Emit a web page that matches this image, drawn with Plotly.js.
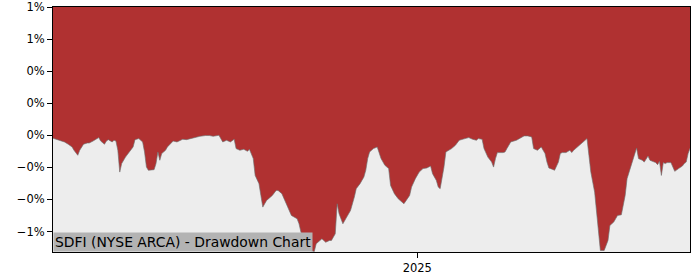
<!DOCTYPE html>
<html>
<head>
<meta charset="utf-8">
<script src="https://cdn.plot.ly/plotly-3.0.1.min.js"></script>
<style>html,body{margin:0;padding:0;background:#fff;}#chart{width:700px;height:280px;}</style>
</head>
<body>
<div id="chart"></div>
<script>
const dates = [
"2024-06-24","2024-06-26","2024-06-28","2024-06-30","2024-07-02","2024-07-04","2024-07-05","2024-07-07","2024-07-08","2024-07-10",
"2024-07-12","2024-07-13","2024-07-15","2024-07-17","2024-07-18","2024-07-19","2024-07-21","2024-07-22","2024-07-23","2024-07-25",
"2024-07-26","2024-07-27","2024-07-28","2024-07-29","2024-07-30","2024-08-01","2024-08-03","2024-08-05","2024-08-06","2024-08-08",
"2024-08-10","2024-08-11","2024-08-12","2024-08-13","2024-08-16","2024-08-17","2024-08-18","2024-08-19","2024-08-20","2024-08-22",
"2024-08-23","2024-08-25","2024-08-26","2024-08-28","2024-08-30","2024-08-31","2024-09-02","2024-09-04","2024-09-06","2024-09-09",
"2024-09-12","2024-09-14","2024-09-16","2024-09-19","2024-09-21","2024-09-23","2024-09-25","2024-09-27","2024-09-28","2024-09-30",
"2024-10-02","2024-10-04","2024-10-05","2024-10-07","2024-10-08","2024-10-10","2024-10-11","2024-10-12","2024-10-14","2024-10-17",
"2024-10-19","2024-10-20","2024-10-22","2024-10-24","2024-10-26","2024-10-27","2024-10-30","2024-10-31","2024-11-01","2024-11-02",
"2024-11-04","2024-11-06","2024-11-08","2024-11-09","2024-11-12","2024-11-14","2024-11-16","2024-11-17","2024-11-19","2024-11-20",
"2024-11-21","2024-11-23","2024-11-25","2024-11-27","2024-11-29","2024-11-30","2024-12-02","2024-12-04","2024-12-05","2024-12-06",
"2024-12-07","2024-12-09","2024-12-11","2024-12-13","2024-12-15","2024-12-17","2024-12-18","2024-12-20","2024-12-22","2024-12-24",
"2024-12-25","2024-12-28","2024-12-29","2024-12-31","2025-01-02","2025-01-04","2025-01-06","2025-01-08","2025-01-09","2025-01-11",
"2025-01-12","2025-01-13","2025-01-15","2025-01-16","2025-01-19","2025-01-21","2025-01-23","2025-01-26","2025-01-28","2025-01-30",
"2025-02-01","2025-02-02","2025-02-04","2025-02-05","2025-02-07","2025-02-09","2025-02-10","2025-02-11","2025-02-12","2025-02-15",
"2025-02-16","2025-02-17","2025-02-19","2025-02-22","2025-02-24","2025-02-26","2025-02-28","2025-03-02","2025-03-03","2025-03-05",
"2025-03-07","2025-03-09","2025-03-10","2025-03-11","2025-03-13","2025-03-14","2025-03-16","2025-03-17","2025-03-18","2025-03-20",
"2025-03-22","2025-03-23","2025-03-24","2025-03-26","2025-03-28","2025-03-30","2025-03-31","2025-04-01","2025-04-02","2025-04-04",
"2025-04-05","2025-04-06","2025-04-07","2025-04-09","2025-04-11","2025-04-12","2025-04-14","2025-04-15","2025-04-16","2025-04-18",
"2025-04-20","2025-04-21","2025-04-23","2025-04-25","2025-04-26","2025-04-27","2025-04-29","2025-04-30","2025-05-02","2025-05-03",
"2025-05-05","2025-05-06","2025-05-07","2025-05-08","2025-05-09","2025-05-10","2025-05-11","2025-05-12","2025-05-14","2025-05-15",
"2025-05-16","2025-05-18","2025-05-20","2025-05-21","2025-05-22","2025-05-23","2025-05-24"
];

const drawdown = [
-0.00023,-0.00034,-0.00045,-0.00052,-0.00070,-0.00091,-0.00117,-0.00156,-0.00117,-0.00070,
-0.00060,-0.00060,-0.00045,-0.00031,-0.00018,-0.00045,-0.00070,-0.00045,-0.00034,-0.00052,
-0.00039,-0.00045,-0.00117,-0.00287,-0.00221,-0.00170,-0.00130,-0.00091,-0.00034,-0.00026,
-0.00052,-0.00130,-0.00248,-0.00273,-0.00268,-0.00221,-0.00130,-0.00195,-0.00143,-0.00117,
-0.00091,-0.00065,-0.00045,-0.00052,-0.00039,-0.00031,-0.00034,-0.00026,-0.00018,-0.00008,
-0.00002,-0.00002,-0.00008,0.00000,-0.00052,-0.00039,-0.00052,-0.00031,-0.00104,-0.00117,
-0.00109,-0.00125,-0.00109,-0.00182,-0.00313,-0.00377,-0.00469,-0.00560,-0.00508,-0.00469,
-0.00430,-0.00430,-0.00455,-0.00521,-0.00586,-0.00625,-0.00651,-0.00690,-0.00755,-0.00820,
-0.00867,-0.00898,-0.00906,-0.00846,-0.00807,-0.00834,-0.00820,-0.00820,-0.00768,-0.00534,
-0.00612,-0.00690,-0.00638,-0.00586,-0.00482,-0.00416,-0.00377,-0.00326,-0.00273,-0.00182,
-0.00130,-0.00104,-0.00091,-0.00182,-0.00234,-0.00260,-0.00391,-0.00455,-0.00495,-0.00526,
-0.00534,-0.00469,-0.00404,-0.00338,-0.00287,-0.00260,-0.00255,-0.00240,-0.00299,-0.00352,
-0.00404,-0.00416,-0.00248,-0.00130,-0.00104,-0.00078,-0.00039,-0.00026,-0.00018,-0.00031,
-0.00039,-0.00026,-0.00031,-0.00104,-0.00170,-0.00209,-0.00248,-0.00182,-0.00135,-0.00135,
-0.00130,-0.00104,-0.00052,-0.00039,-0.00021,-0.00005,-0.00005,-0.00013,-0.00104,-0.00117,
-0.00091,-0.00143,-0.00209,-0.00255,-0.00266,-0.00273,-0.00209,-0.00143,-0.00135,-0.00135,
-0.00117,-0.00135,-0.00117,-0.00091,-0.00065,-0.00039,-0.00026,-0.00156,-0.00287,-0.00443,
-0.00612,-0.00768,-0.00898,-0.00898,-0.00820,-0.00703,-0.00677,-0.00651,-0.00625,-0.00620,
-0.00469,-0.00338,-0.00248,-0.00156,-0.00099,-0.00182,-0.00195,-0.00209,-0.00162,-0.00195,
-0.00203,-0.00213,-0.00229,-0.00203,-0.00313,-0.00213,-0.00221,-0.00213,-0.00213,-0.00255,
-0.00281,-0.00260,-0.00240,-0.00221,-0.00209,-0.00143,-0.00102
];

const yTickVals = [0.01, 0.0075, 0.005, 0.0025, 0, -0.0025, -0.005, -0.0075];
const yTickText = ["1%", "1%", "0%", "0%", "0%", "\u22120%", "\u22120%", "\u22120%".replace("0","1")];
const xTickVals = ["2025-01-01"];
const xTickText = ["2025"];
const chartLabel = "SDFI (NYSE ARCA) - Drawdown Chart";
const yRange = [-0.0091, 0.01];

const topLine = {
  x: dates,
  y: dates.map(() => yRange[1]),
  type: "scatter",
  mode: "lines",
  line: { width: 0, color: "rgba(0,0,0,0)" },
  hoverinfo: "skip",
  showlegend: false
};

const ddTrace = {
  x: dates,
  y: drawdown,
  type: "scatter",
  mode: "lines",
  fill: "tonexty",
  fillcolor: "#b03131",
  line: { width: 0.8, color: "rgba(110,110,110,0.8)" },
  showlegend: false
};

const tickFont = { family: "DejaVu Sans, sans-serif", size: 11.5, color: "#000" };

const layout = {
  width: 700,
  height: 280,
  margin: { l: 53, r: 10, t: 7, b: 28, pad: 0 },
  paper_bgcolor: "#ffffff",
  plot_bgcolor: "#ededed",
  showlegend: false,
  xaxis: {
    type: "date",
    range: [dates[0], dates[dates.length - 1]],
    tickvals: xTickVals,
    ticktext: xTickText,
    ticks: "outside",
    ticklen: 5,
    tickwidth: 1,
    tickcolor: "#000",
    showline: true,
    mirror: true,
    linecolor: "#000",
    linewidth: 1,
    showgrid: false,
    zeroline: false,
    tickfont: tickFont
  },
  yaxis: {
    range: yRange,
    tickvals: yTickVals,
    ticktext: yTickText,
    ticks: "outside",
    ticklen: 5,
    tickwidth: 1,
    tickcolor: "#000",
    showline: true,
    mirror: true,
    linecolor: "#000",
    linewidth: 1,
    showgrid: false,
    zeroline: false,
    tickfont: tickFont
  },
  annotations: [{
    text: chartLabel,
    xref: "paper", yref: "paper",
    x: 0, y: 0,
    xanchor: "left", yanchor: "bottom",
    showarrow: false,
    bgcolor: "#b3b3b3",
    borderpad: 1,
    font: { family: "DejaVu Sans, sans-serif", size: 13.9, color: "#000" }
  }]
};

Plotly.newPlot("chart", [topLine, ddTrace], layout, { displayModeBar: false, staticPlot: true });
</script>
</body>
</html>
